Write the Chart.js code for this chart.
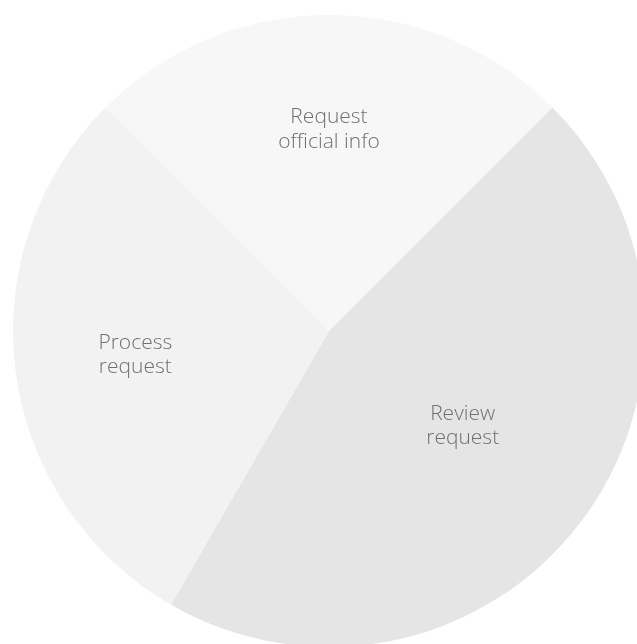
<!DOCTYPE html>
<html>
<head>
<meta charset="utf-8">
<script src="https://cdn.jsdelivr.net/npm/chart.js@4"></script>
<style>
    html, body { margin: 0; padding: 0; background: #ffffff; overflow: hidden; }
    body { width: 637px; height: 644px; position: relative; }
    #wrap { position: absolute; left: 13px; top: 15px; width: 632px; height: 632px; }
</style>
</head>
<body>
<div id="wrap"><canvas id="pieChart"></canvas></div>
<script>
// Slices, clockwise from the upper-left edge
const categories = ['Request official info', 'Review request', 'Process request'];
const labelLines = [['Request', 'official info'], ['Review', 'request'], ['Process', 'request']];
const values = [12, 22, 14];

const COLORS = ['#f7f7f7', '#e5e5e5', '#f2f2f2'];

// Two-line labels placed along each slice's middle angle
const sliceLabels = {
    id: 'sliceLabels',
    afterDatasetsDraw(chart, args, opts) {
        const ctx = chart.ctx;
        const meta = chart.getDatasetMeta(0);
        ctx.save();
        ctx.font = '300 21px "Open Sans"';
        ctx.fillStyle = '#707070';
        ctx.textAlign = 'center';
        ctx.textBaseline = 'alphabetic';
        meta.data.forEach((arc, i) => {
            const p = arc.getProps(['x', 'y', 'startAngle', 'endAngle', 'outerRadius'], true);
            const mid = (p.startAngle + p.endAngle) / 2 + (opts.angleShift[i] || 0);
            const d = p.outerRadius * opts.radius[i];
            const cx = p.x + Math.cos(mid) * d;
            const cy = p.y + Math.sin(mid) * d;
            labelLines[i].forEach((txt, j) => {
                ctx.fillText(txt, cx, cy - 4.75 + j * 24.5);
            });
        });
        ctx.restore();
    }
};

const ctx = document.getElementById('pieChart').getContext('2d');
new Chart(ctx, {
    type: 'pie',
    data: {
        labels: categories,
        datasets: [{
            data: values,
            backgroundColor: COLORS,
            borderWidth: 0,
            hoverOffset: 0
        }]
    },
    options: {
        responsive: true,
        maintainAspectRatio: false,
        animation: false,
        rotation: -45,
        layout: { padding: 0 },
        plugins: {
            legend: { display: false },
            tooltip: { enabled: false },
            sliceLabels: {
                radius: [0.642, 0.516, 0.617],
                angleShift: [0, -0.045, 0.015]
            }
        }
    },
    plugins: [sliceLabels]
});
</script>
</body>
</html>
